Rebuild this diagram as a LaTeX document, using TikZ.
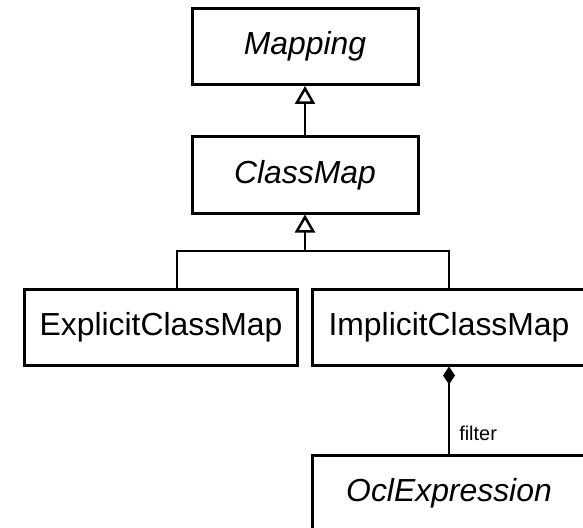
\documentclass[tikz,border=0pt]{standalone}
\usepackage{fontspec}
\setmainfont{Liberation Sans}
\usetikzlibrary{arrows.meta}

\begin{document}
\begin{tikzpicture}[x=1bp, y=-1bp,
    classbox/.style={draw, line width=3bp, inner sep=0pt, fill=white,
      minimum height=76bp, font=\fontsize{32}{38}\selectfont},
    abstract/.style={classbox, font=\fontsize{32}{38}\selectfont\itshape},
    link/.style={line width=2.5bp},
    gen/.style={link, -{Triangle[open, length=18bp, width=20bp, line width=2.5bp]}},
    comp/.style={link, {Diamond[length=18bp, width=12bp]}-},
    role/.style={inner sep=0pt, font=\fontsize{20}{24}\selectfont}]

  \clip (0,0) rectangle (583,528);
  \fill[white] (0,0) rectangle (583,528);

  % classes
  \node[abstract, minimum width=226bp] (Mapping)  at (305,46.5) {Mapping};
  \node[abstract, minimum width=226bp] (ClassMap) at (305,175)  {ClassMap};
  \node[classbox, minimum width=272bp] (Explicit) at (161,327)  {ExplicitClassMap};
  \node[classbox, minimum width=274bp] (Implicit) at (449,327)  {ImplicitClassMap};
  \node[abstract, minimum width=273bp] (Ocl)      at (449,493)  {OclExpression};

  % generalisation ClassMap -> Mapping
  \draw[gen] (ClassMap.north) -- (Mapping.south);

  % generalisation tree of the two concrete class maps
  \coordinate (hub) at (305,251);
  \coordinate (hl)  at (177,251);
  \coordinate (hr)  at (449,251);
  \draw[gen] (hub) -- (ClassMap.south);
  \draw[link] (hl |- Explicit.north) -- (hl) -- (hr) -- (hr |- Implicit.north);

  % composition ImplicitClassMap <>-- OclExpression
  \draw[comp] (Implicit.south) --
    node[role, pos=0.855, anchor=base west, xshift=9bp] (filterlbl) {filter}
    (Ocl.north);
\end{tikzpicture}
\end{document}
